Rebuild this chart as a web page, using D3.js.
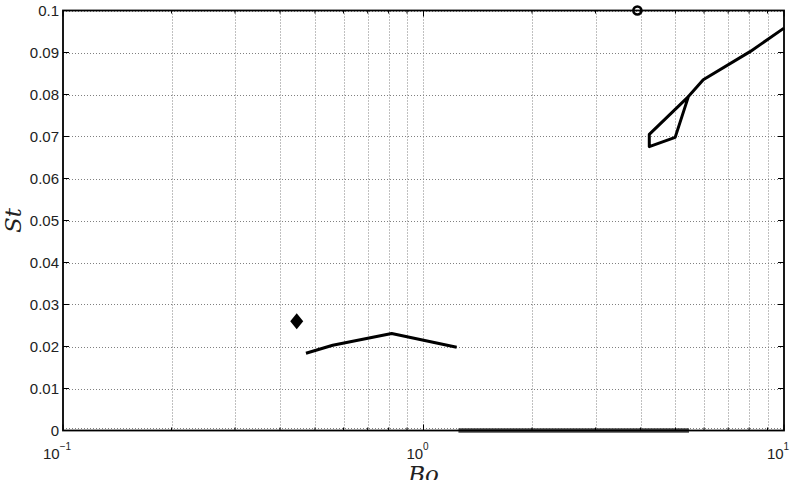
<!DOCTYPE html>
<html>
<head>
<meta charset="utf-8">
<script src="https://cdn.jsdelivr.net/npm/d3@7"></script>
<style>
  body { margin: 0; background: #fff; }
  svg { display: block; }
  .tick-label { font-family: "Liberation Sans", Arial, Helvetica, sans-serif; font-size: 15px; fill: #222; }
  .axis-title { font-family: "DejaVu Serif", "Liberation Serif", serif; font-style: italic; font-size: 23px; fill: #222; }
</style>
</head>
<body>
<div id="chart"></div>
<script>
// axis setup
const xDomain = [0.1, 10];
const yDomain = [0, 0.1];
const yTicks = [0, 0.01, 0.02, 0.03, 0.04, 0.05, 0.06, 0.07, 0.08, 0.09, 0.1];
const yTickLabels = ['0', '0.01', '0.02', '0.03', '0.04', '0.05', '0.06', '0.07', '0.08', '0.09', '0.1'];
const xMajorTicks = [0.1, 1, 10];
const xMajorExps = ['\u22121', '0', '1'];

// data
const lowBranchBo = [0.472, 0.56, 0.816, 1.236];
const lowBranchSt = [0.0184, 0.0203, 0.0231, 0.0198];
const highBranchBo = [5.43, 4.99, 4.23, 4.23, 5.43, 5.97, 8.05, 10];
const highBranchSt = [0.0795, 0.0698, 0.0676, 0.0705, 0.0795, 0.0835, 0.0902, 0.0958];
const zeroBandBo = [1.25, 5.45];
const zeroBandSt = [0, 0];
const diamondPt = [0.445, 0.026];
const circlePt = [3.92, 0.1];

const width = 794, height = 480;
const margin = { left: 63, right: 10, top: 10.5, bottom: 49.5 };

const svg = d3.select('#chart').append('svg')
  .attr('width', width).attr('height', height);

const x = d3.scaleLog().domain(xDomain).range([margin.left, width - margin.right]);
const y = d3.scaleLinear().domain(yDomain).range([height - margin.bottom, margin.top]);

const x0 = x.range()[0], x1 = x.range()[1], y0 = y.range()[0], y1 = y.range()[1];

// minor log ticks (2..9 in each decade)
const xMinor = [];
for (let d = -1; d < 1; d++) {
  for (let k = 2; k <= 9; k++) xMinor.push(k * Math.pow(10, d));
}

// grid
const grid = svg.append('g').attr('stroke', '#808080').attr('stroke-width', 1).attr('stroke-dasharray', '1,2');
grid.selectAll('line.gx').data(xMinor.concat([1])).join('line')
  .attr('x1', d => Math.round(x(d)) + 0.5).attr('x2', d => Math.round(x(d)) + 0.5)
  .attr('y1', y1).attr('y2', y0);
grid.selectAll('line.gy').data(yTicks.slice(1)).join('line')
  .attr('x1', x0).attr('x2', x1)
  .attr('y1', d => Math.round(y(d)) + 0.5).attr('y2', d => Math.round(y(d)) + 0.5);
grid.append('line').attr('x1', x0).attr('x2', x1).attr('y1', y0 - 2).attr('y2', y0 - 2);

// data
const line = d3.line().x(d => x(d[0])).y(d => y(d[1]));

svg.append('path')
  .datum(zeroBandBo.map((b, i) => [b, zeroBandSt[i]]))
  .attr('d', line).attr('fill', 'none').attr('stroke', '#4a4a4a').attr('stroke-width', 4.5);

svg.append('path')
  .datum(lowBranchBo.map((b, i) => [b, lowBranchSt[i]]))
  .attr('d', line).attr('fill', 'none').attr('stroke', '#000').attr('stroke-width', 3)
  .attr('stroke-linejoin', 'round');

svg.append('path')
  .datum(highBranchBo.map((b, i) => [b, highBranchSt[i]]))
  .attr('d', line).attr('fill', 'none').attr('stroke', '#000').attr('stroke-width', 3)
  .attr('stroke-linejoin', 'round');

svg.append('path')
  .attr('transform', `translate(${x(diamondPt[0])},${y(diamondPt[1])})`)
  .attr('d', 'M0,-8L6.5,0L0,8L-6.5,0Z')
  .attr('fill', '#000');

svg.append('circle')
  .attr('cx', x(circlePt[0])).attr('cy', y(circlePt[1])).attr('r', 4)
  .attr('fill', 'none').attr('stroke', '#000').attr('stroke-width', 2.6);

// ticks (inward, all four sides)
const ticks = svg.append('g').attr('stroke', '#000').attr('stroke-width', 1);
xMinor.forEach(d => {
  ticks.append('line').attr('x1', x(d)).attr('x2', x(d)).attr('y1', y0).attr('y2', y0 - 3);
  ticks.append('line').attr('x1', x(d)).attr('x2', x(d)).attr('y1', y1).attr('y2', y1 + 3);
});
xMajorTicks.forEach(d => {
  ticks.append('line').attr('x1', x(d)).attr('x2', x(d)).attr('y1', y0).attr('y2', y0 - 6);
  ticks.append('line').attr('x1', x(d)).attr('x2', x(d)).attr('y1', y1).attr('y2', y1 + 6);
});
yTicks.forEach(d => {
  ticks.append('line').attr('x1', x0).attr('x2', x0 + 6).attr('y1', y(d)).attr('y2', y(d));
  ticks.append('line').attr('x1', x1).attr('x2', x1 - 6).attr('y1', y(d)).attr('y2', y(d));
});

// frame
svg.append('rect')
  .attr('x', x0).attr('y', y1).attr('width', x1 - x0).attr('height', y0 - y1)
  .attr('fill', 'none').attr('stroke', '#000').attr('stroke-width', 1.8);

// y tick labels
svg.append('g').selectAll('text').data(yTicks).join('text')
  .attr('class', 'tick-label')
  .attr('x', x0 - 4).attr('y', d => y(d) + 5.5)
  .attr('text-anchor', 'end')
  .text((d, i) => yTickLabels[i]);

// x tick labels 10^n
const xl = svg.append('g').selectAll('text').data(xMajorTicks).join('text')
  .attr('class', 'tick-label')
  .attr('x', d => x(d) - 6).attr('y', 459)
  .attr('text-anchor', 'middle');
xl.append('tspan').text('10');
xl.append('tspan').attr('dy', -9).attr('font-size', 10).text((d, i) => xMajorExps[i]);

// axis titles
svg.append('text').attr('class', 'axis-title')
  .attr('x', x(1)).attr('y', 482).attr('text-anchor', 'middle').text('Bo');
svg.append('text').attr('class', 'axis-title')
  .attr('transform', `translate(21,${(y0 + y1) / 2}) rotate(-90)`)
  .attr('text-anchor', 'middle').text('St');
</script>
</body>
</html>
